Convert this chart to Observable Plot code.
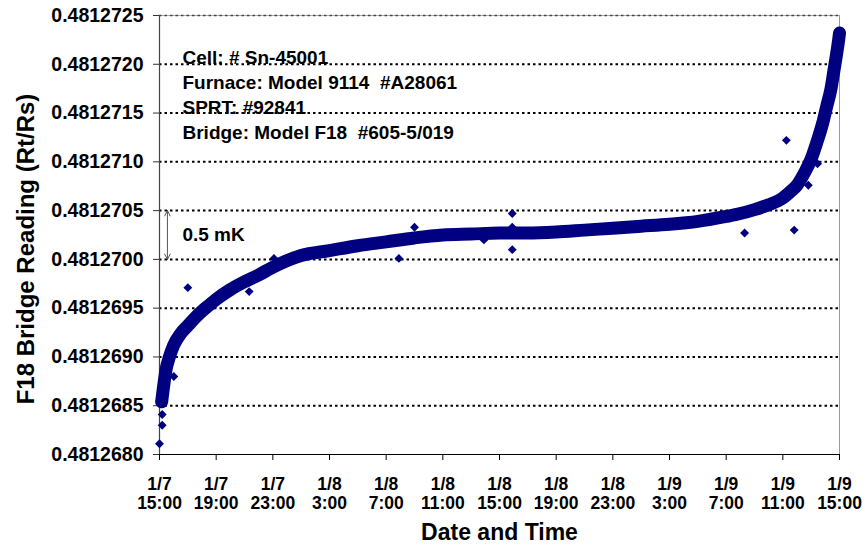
<!DOCTYPE html>
<html><head><meta charset="utf-8">
<script src="https://cdn.jsdelivr.net/npm/d3@7"></script>
<script src="https://cdn.jsdelivr.net/npm/@observablehq/plot@0.6"></script>
<style>
body{margin:0;background:#fff;}
#chart{width:865px;height:550px;}
</style></head><body><div id="chart"></div>
<script>
// x = hours since 1/7 15:00
const tickHours = [0,4,8,12,16,20,24,28,32,36,40,44,48];
const tickLabels = ["1/7\n15:00","1/7\n19:00","1/7\n23:00","1/8\n3:00","1/8\n7:00","1/8\n11:00","1/8\n15:00","1/8\n19:00","1/8\n23:00","1/9\n3:00","1/9\n7:00","1/9\n11:00","1/9\n15:00"];
const yTicks = [0.4812680,0.4812685,0.4812690,0.4812695,0.4812700,0.4812705,0.4812710,0.4812715,0.4812720,0.4812725];
const yTickLabels = ["0.4812680","0.4812685","0.4812690","0.4812695","0.4812700","0.4812705","0.4812710","0.4812715","0.4812720","0.4812725"];

// main band of readings
const bandHours = [0.15,0.3,0.45,0.7,1.0,1.5,2.0,2.5,3.0,3.5,4.0,5,6,7,8,10,12,14,16,18,20,22,24,26,28,30,32,34,36,38,40,41,42,43,44,44.5,45,45.5,46,46.4,46.8,47.1,47.4,47.6,47.8,47.95,48.0];
const bandValues = [0.48126854,0.48126871,0.48126886,0.48126900,0.48126912,0.48126924,0.48126932,0.48126940,0.48126947,0.48126953,0.48126959,0.48126969,0.48126977,0.48126984,0.48126992,0.48127004,0.48127009,0.48127014,0.48127018,0.48127022,0.48127025,0.48127026,0.48127027,0.48127027,0.48127028,0.48127030,0.48127032,0.48127034,0.48127036,0.48127039,0.48127044,0.48127047,0.48127051,0.48127056,0.48127063,0.48127069,0.48127076,0.48127088,0.48127103,0.48127120,0.48127139,0.48127157,0.48127175,0.48127193,0.48127211,0.48127226,0.48127232];

// isolated readings
const outlierHours = [0.0,0.19,0.19,1.01,2.0,6.33,8.08,16.9,18.0,22.9,24.9,24.9,24.9,41.3,44.25,44.8,45.8,46.45];
const outlierValues = [0.48126811,0.48126830,0.48126841,0.48126880,0.48126971,0.48126967,0.48127001,0.48127001,0.48127033,0.48127020,0.48127047,0.48127033,0.48127010,0.48127027,0.48127122,0.48127030,0.48127076,0.48127098];

const infoLines = ["Cell: # Sn-45001","Furnace: Model 9114  #A28061","SPRT: #92841","Bridge: Model F18  #605-5/019"];
const spanHour = [0.56];
const spanLow = [0.4812700];
const spanHigh = [0.4812705];
const spanLabel = ["0.5 mK"];

const band = bandHours.map((h,i)=>({h, v: bandValues[i]}));
const outliers = outlierHours.map((h,i)=>({h, v: outlierValues[i]}));
const span = spanHour.map((h,i)=>({h, lo: spanLow[i], hi: spanHigh[i], mid:(spanLow[i]+spanHigh[i])/2, label: spanLabel[i]}));
const gridVals = yTicks.slice(1, yTicks.length-1);
const navy = "#000080";

const chart = Plot.plot({
  width: 865, height: 550,
  marginLeft: 159, marginRight: 26, marginTop: 15, marginBottom: 96,
  style: "font-family: 'Liberation Sans', Arial, sans-serif; font-weight: bold; background: white; overflow: visible;",
  x: {domain: [0,48], type: "linear"},
  y: {domain: [0.4812680, 0.4812725]},
  marks: [
    Plot.ruleY(gridVals, {stroke: "black", strokeDasharray: "2.5,3", strokeWidth: 2}),
    Plot.ruleY([yTicks[yTicks.length-1]], {stroke: "#aaa", strokeWidth: 1}),
    Plot.ruleY([yTicks[yTicks.length-1]], {stroke: "#444", strokeDasharray: "2.5,3", strokeWidth: 1.5}),
    Plot.ruleX([48], {stroke: "#999", strokeWidth: 1}),
    Plot.axisY(yTicks, {tickFormat: (d,i) => yTickLabels[i], tickSize: 6, tickPadding: 10, fontSize: 19.5, label: null, fontWeight: "bold", stroke: "#333"}),
    Plot.axisX(tickHours, {tickFormat: (d,i) => tickLabels[i], tickSize: 6, tickPadding: 16, fontSize: 17.5, lineHeight: 1.09, label: null, fontWeight: "bold"}),
    Plot.ruleX([0], {stroke: "#444", strokeWidth: 1.2}),
    Plot.ruleY([yTicks[0]], {stroke: "black", strokeWidth: 1.2}),
    Plot.line(band, {x: "h", y: "v", stroke: navy, strokeWidth: 13, curve: "monotone-x", strokeLinecap: "round", strokeLinejoin: "round"}),
    Plot.dot(band, {x: "h", y: "v", symbol: "diamond2", r: 3.6, fill: navy, stroke: "none"}),
    Plot.dot(outliers, {x: "h", y: "v", symbol: "diamond2", r: 4, fill: navy, stroke: "none"}),
    Plot.arrow(span, {x1: "h", x2: "h", y1: "mid", y2: "hi", stroke: "#555", strokeWidth: 1, headLength: 9, headAngle: 55}),
    Plot.arrow(span, {x1: "h", x2: "h", y1: "mid", y2: "lo", stroke: "#555", strokeWidth: 1, headLength: 9, headAngle: 55}),
    Plot.text(span, {x: "h", y: "mid", text: "label", dx: 15, textAnchor: "start", fontSize: 19, fontWeight: "bold", fill: "black"}),
    Plot.text([infoLines.join("\n")], {frameAnchor: "top-left", dx: 23, dy: 30.5, lineAnchor: "top", lineHeight: 1.316, textAnchor: "start", fontSize: 19, fontWeight: "bold", fill: "black"}),
    Plot.text(["F18 Bridge Reading (Rt/Rs)"], {frameAnchor: "left", textAnchor: "middle", rotate: -90, dx: -133, dy: 14, fontSize: 24, fontWeight: "bold", fill: "black"}),
    Plot.text(["Date and Time"], {frameAnchor: "bottom", dy: 85, fontSize: 23, fontWeight: "bold", fill: "black"})
  ]
});
document.getElementById("chart").appendChild(chart);
</script></body></html>
